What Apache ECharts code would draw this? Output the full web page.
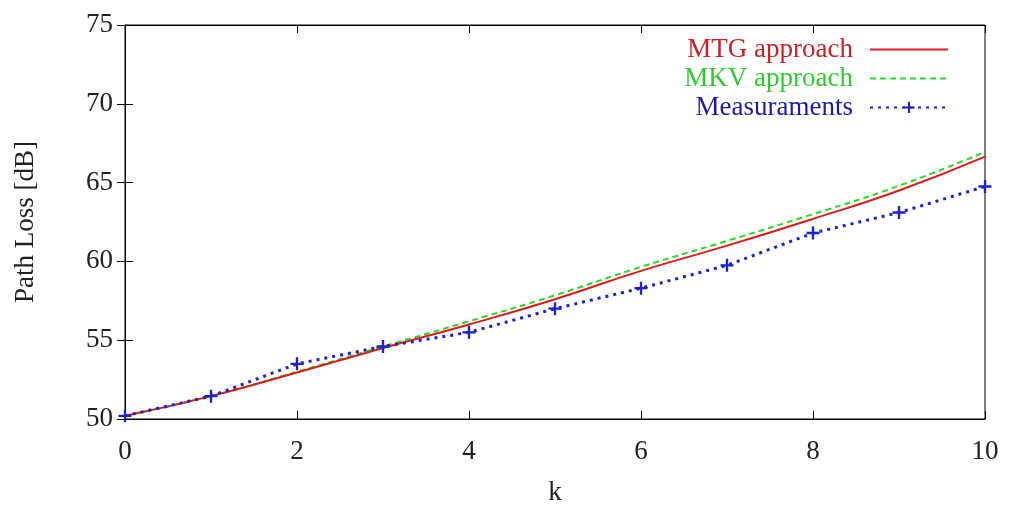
<!DOCTYPE html>
<html>
<head>
<meta charset="utf-8">
<script src="https://cdn.jsdelivr.net/npm/echarts@6/dist/echarts.min.js"></script>
<style>html,body{margin:0;padding:0;background:#fff}#c{width:1009px;height:511px}</style>
</head>
<body>
<div id="c"></div>
<script>
const kValues = [0,1,2,3,4,5,6,7,8,9,10];
const mtg = [50.2,51.45,52.95,54.5,56.0,57.6,59.4,61.0,62.7,64.5,66.65];
const mkv = [50.2,51.45,53.0,54.6,56.2,57.85,59.65,61.3,63.0,64.8,66.95];
const meas = [50.2,51.45,53.5,54.6,55.5,57.0,58.3,59.75,61.8,63.1,64.75];
const seriesNames = ['MTG approach','MKV approach','Measuraments'];
const colors = ['#e01a1a','#22dd22','#1a22cc'];
const textColors = ['#cc1f26','#2fcc2f','#1c1ca8'];

const font = 'Liberation Serif';
const fs = 27;
const pair = (ys) => kValues.map((k,i)=>[k,ys[i]]);
const plus = 'path://M0,4.1h10v1.8h-10z M4.1,0h1.8v10h-1.8z';

const chart = echarts.init(document.getElementById('c'));
const axisCommon = {
  axisLine:{lineStyle:{color:'#000',width:1}},
  axisTick:{inside:true,length:8,lineStyle:{color:'#000'}},
  splitLine:{show:false}
};
chart.setOption({
  animation:false,
  grid:{left:125,right:24,top:25,bottom:91,show:true,borderColor:'#000',borderWidth:1},
  legend:{
    orient:'vertical', right:55, top:31, align:'right',
    itemWidth:78, itemHeight:14, itemGap:2,
    textStyle:{fontFamily:font,fontSize:fs,padding:[0,12,0,0]},
    data:seriesNames.map((n,i)=>({name:n,textStyle:{color:textColors[i]},
      itemStyle: i<2 ? {opacity:0} : undefined}))
  },
  xAxis:[
    Object.assign({type:'value',min:0,max:10,interval:2,
      name:'k',nameLocation:'middle',nameGap:60,
      nameTextStyle:{fontFamily:font,fontSize:fs,color:'#222'},
      axisLabel:{fontFamily:font,fontSize:fs,color:'#222',margin:19}},axisCommon),
    Object.assign({type:'value',min:0,max:10,interval:2,position:'top',axisLabel:{show:false}},axisCommon)
  ],
  yAxis:[
    Object.assign({type:'value',min:50,max:75,interval:5,
      name:'Path Loss [dB]',nameLocation:'middle',nameGap:86,
      nameTextStyle:{fontFamily:font,fontSize:fs,color:'#222'},
      axisLabel:{fontFamily:font,fontSize:fs,color:'#222',margin:12}},axisCommon),
    Object.assign({type:'value',min:50,max:75,interval:5,position:'right',axisLabel:{show:false}},axisCommon)
  ],
  series:[
    {name:seriesNames[0],type:'line',data:pair(mtg),smooth:true,showSymbol:false,symbol:'none',
      lineStyle:{color:colors[0],width:2},itemStyle:{color:colors[0]},z:3},
    {name:seriesNames[1],type:'line',data:pair(mkv),smooth:true,showSymbol:false,symbol:'none',
      lineStyle:{color:colors[1],width:2,type:[6,4]},itemStyle:{color:colors[1]},z:2},
    {name:seriesNames[2],type:'line',data:pair(meas),symbol:plus,symbolSize:13,
      lineStyle:{color:colors[2],width:3,type:[3,5]},itemStyle:{color:colors[2]},z:4}
  ]
});
</script>
</body>
</html>
